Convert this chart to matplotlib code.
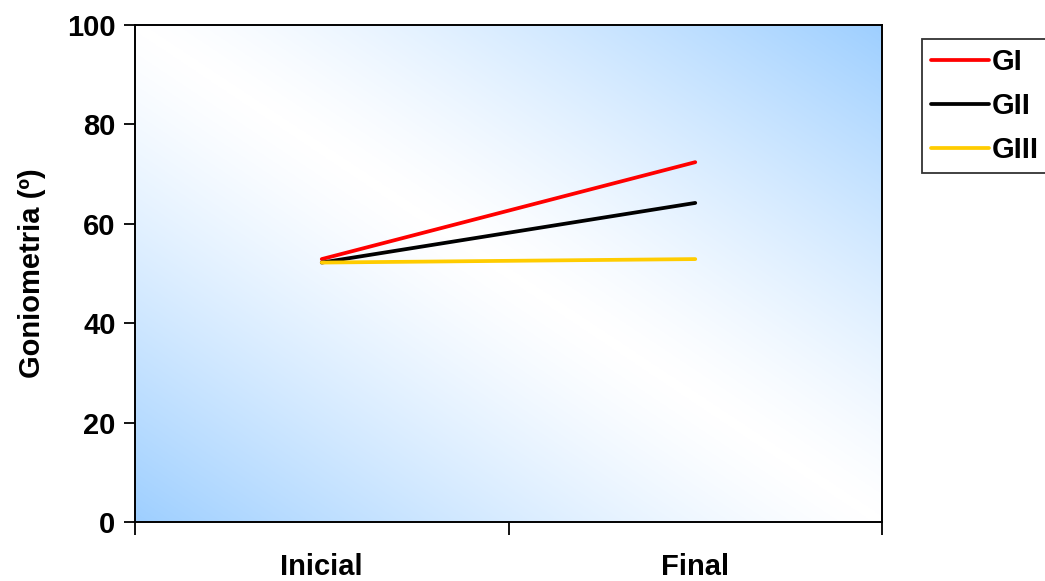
import numpy as np
import matplotlib.pyplot as plt
from matplotlib.colors import LinearSegmentedColormap

plt.rcParams['font.family'] = ['Liberation Sans', 'DejaVu Sans']
plt.rcParams['font.weight'] = 'bold'

# Goniometry means per group, start and end of treatment
momentos = ['Inicial', 'Final']
gi = [52.9, 72.4]
gii = [52.2, 64.2]
giii = [52.2, 52.9]
grupos = ['GI', 'GII', 'GIII']
colores = ['#FF0000', '#000000', '#FFCC00']

fig = plt.figure(figsize=(10.45, 5.81), dpi=100)
ax = fig.add_axes([135 / 1045, 59 / 581, 747 / 1045, 497 / 581])

# diagonal blue-white-blue background for the plot area
u, v = np.meshgrid(np.linspace(0, 1, 400), np.linspace(0, 1, 400))
t = np.abs((u + v) - 1.0) ** 1.3
fondo = LinearSegmentedColormap.from_list('fondo', ['#FFFFFF', '#9ECFFF'])
ax.imshow(t, cmap=fondo, origin='lower', extent=[0, 1, 0, 1],
          transform=ax.transAxes, aspect='auto', zorder=0, vmin=0, vmax=1)

x = np.arange(len(momentos)) + 0.5
for serie, nombre, col in zip([gi, gii, giii], grupos, colores):
    ax.plot(x, serie, color=col, lw=2.7, label=nombre, zorder=3,
            solid_capstyle='round')

ax.set_xlim(0, 2)
ax.set_ylim(0, 100)
ax.set_yticks(range(0, 101, 20))
ax.set_xticks([0, 1, 2])
ax.set_xticklabels([])
ax.set_xticks(x, minor=True)
ax.set_xticklabels(momentos, minor=True)
ax.tick_params(axis='x', which='minor', length=0, pad=22, labelsize=21)
ax.tick_params(axis='x', which='major', direction='out', length=9, width=1.3)
ax.tick_params(axis='y', direction='out', length=8, width=1.3, labelsize=21, pad=6)
for s in ax.spines.values():
    s.set_linewidth(1.4)
    s.set_color('black')

ax.set_ylabel('Goniometria (º)', fontsize=21, fontweight='bold', labelpad=15)

leg = fig.legend(loc='upper left', bbox_to_anchor=(922 / 1045, 1 - 39 / 581),
                 fontsize=21, frameon=True, fancybox=False, handlelength=2.0,
                 handletextpad=0.1, labelspacing=0.55, borderpad=0.3,
                 borderaxespad=0)
leg.get_frame().set_edgecolor('black')
leg.get_frame().set_linewidth(1.3)
for line in leg.get_lines():
    line.set_linewidth(2.7)

fig.savefig('out.png', dpi=100)
